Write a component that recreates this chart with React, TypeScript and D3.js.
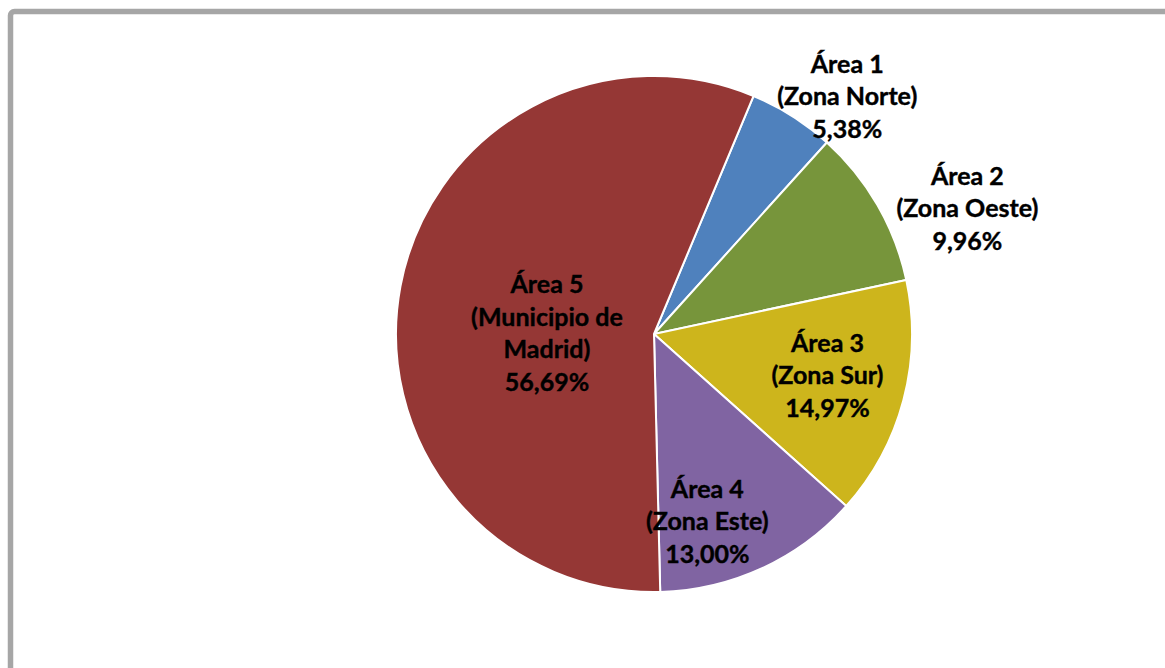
import * as d3 from "d3";
import React from "react";

const areas = ["Área 1", "Área 2", "Área 3", "Área 4", "Área 5"];
const zones = [["(Zona Norte)"], ["(Zona Oeste)"], ["(Zona Sur)"], ["(Zona Este)"], ["(Municipio de", "Madrid)"]];
const shares = [5.38, 9.96, 14.97, 13.0, 56.69];
const colors = ["#4F81BD", "#77953B", "#CDB51C", "#8064A2", "#953735"];

// where Excel put each label: polar angle (deg from 12 o'clock) and radius as a fraction of r
const labelAngle = [39, 68, 103, 164, 271];
const labelRadius = [1.19, 1.31, 0.69, 0.75, 0.415];

const W = 1165;
const H = 668;
const cx = 654;
const cy = 334;
const r = 258;

const fmt = (v: number) => d3.format(".2f")(v).replace(".", ",") + "%";

export default function App() {
  const pie = d3
    .pie<number>()
    .sort(null)
    .value((d) => d)
    .startAngle((22.7 * Math.PI) / 180)
    .endAngle((22.7 * Math.PI) / 180 + 2 * Math.PI);
  const arcs = pie(shares);
  const arc = d3.arc<d3.PieArcDatum<number>>().innerRadius(0).outerRadius(r);
  const lineH = 32.5;

  return (
    <svg
      width={W}
      height={H}
      style={{ position: "fixed", left: 0, top: 0, background: "#fff" }}
      fontFamily="Lato, 'Open Sans', sans-serif"
    >
      <rect x={10.5} y={11.5} width={1200} height={700} rx={4} fill="#fff" stroke="#A6A6A6" strokeWidth={5.5} />
      <g transform={`translate(${cx},${cy})`}>
        {arcs.map((a, i) => (
          <path key={i} d={arc(a) || ""} fill={colors[i]} stroke="#fff" strokeWidth={2} />
        ))}
        {arcs.map((a, i) => {
          const ang = (labelAngle[i] * Math.PI) / 180;
          const lx = Math.sin(ang) * r * labelRadius[i];
          const ly = -Math.cos(ang) * r * labelRadius[i];
          const lines = [areas[i], ...zones[i], fmt(shares[i])];
          const top = ly - ((lines.length - 1) * lineH) / 2;
          return (
            <text
              key={i}
              textAnchor="middle"
              fontWeight="bold"
              fontSize={25}
              fill="#000"
              stroke="#000"
              strokeWidth={0.4}
            >
              {lines.map((t, j) => (
                <tspan key={j} x={lx} y={top + j * lineH} dy="0.4em">
                  {t}
                </tspan>
              ))}
            </text>
          );
        })}
      </g>
    </svg>
  );
}
